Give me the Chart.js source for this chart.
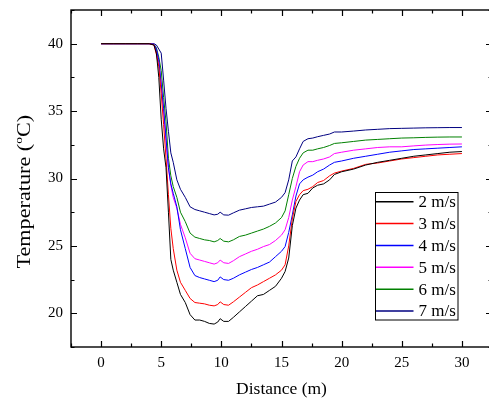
<!DOCTYPE html>
<html>
<head>
<meta charset="utf-8">
<script src="https://cdn.jsdelivr.net/npm/chart.js@4.4.0/dist/chart.umd.min.js"></script>
<style>
  html, body { margin: 0; padding: 0; background: #fff; overflow: hidden; }
  #wrap { width: 500px; height: 401px; }
</style>
</head>
<body>
<div id="wrap"><canvas id="chart" width="500" height="401"></canvas></div>
<script>
// distance (m)
const distance = [0, 1, 2, 3, 4, 4.4, 4.6, 4.8, 5.0, 5.2, 5.4, 5.6, 5.8, 6.0, 6.3, 6.6, 7.0, 7.4, 7.8, 8.2, 8.6, 9.0, 9.4, 9.7, 9.9, 10.2, 10.6, 11.0, 11.5, 12.0, 12.5, 13.0, 13.5, 14.0, 14.5, 15.0, 15.3, 15.6, 15.9, 16.2, 16.5, 16.8, 17.2, 17.6, 18.0, 18.5, 19.0, 19.4, 20, 21, 22, 23, 24, 25, 26, 27, 28, 29, 30];

// temperature (°C) per wind speed
const t2 = [40, 40, 40, 40, 40, 39.9, 39.3, 37.5, 34.4, 32.2, 30.8, 27.5, 24.0, 23.2, 22.3, 21.4, 20.8, 19.9, 19.5, 19.5, 19.4, 19.25, 19.2, 19.35, 19.6, 19.4, 19.4, 19.7, 20.1, 20.5, 20.9, 21.3, 21.4, 21.7, 22.0, 22.6, 23.1, 24.1, 26.5, 27.8, 28.4, 28.8, 28.9, 29.3, 29.5, 29.6, 29.9, 30.3, 30.5, 30.7, 31.0, 31.2, 31.35, 31.5, 31.65, 31.75, 31.85, 31.95, 32.0];
const t3 = [40, 40, 40, 40, 40, 39.9, 39.2, 38.3, 36.3, 34.0, 31.5, 28.8, 26.3, 24.8, 23.2, 22.3, 21.7, 21.1, 20.8, 20.75, 20.7, 20.6, 20.55, 20.65, 20.85, 20.65, 20.6, 20.85, 21.2, 21.55, 21.9, 22.1, 22.35, 22.6, 22.85, 23.2, 23.6, 25.0, 27.0, 28.3, 28.8, 29.1, 29.2, 29.4, 29.7, 29.85, 30.2, 30.4, 30.55, 30.75, 31.05, 31.15, 31.3, 31.45, 31.55, 31.65, 31.75, 31.8, 31.85];
const t4 = [40, 40, 40, 40, 40, 39.95, 39.6, 38.8, 37.0, 35.2, 33.0, 30.8, 29.6, 28.9, 27.9, 26.2, 24.8, 23.4, 22.8, 22.65, 22.55, 22.45, 22.35, 22.45, 22.7, 22.5, 22.45, 22.6, 22.85, 23.05, 23.25, 23.4, 23.6, 23.8, 24.2, 24.6, 24.95, 26.0, 27.3, 28.7, 29.6, 29.9, 30.1, 30.25, 30.5, 30.7, 31.0, 31.2, 31.3, 31.5, 31.65, 31.8, 31.95, 32.05, 32.15, 32.2, 32.25, 32.3, 32.35];
const t5 = [40, 40, 40, 40, 40, 39.95, 39.5, 38.6, 37.0, 35.0, 32.8, 30.8, 29.5, 28.6, 27.8, 26.6, 25.6, 24.45, 24.05, 23.95, 23.85, 23.75, 23.65, 23.75, 23.95, 23.75, 23.7, 23.9, 24.2, 24.4, 24.6, 24.75, 24.95, 25.1, 25.4, 25.8, 26.2, 27.1, 28.4, 29.4, 30.5, 31.0, 31.25, 31.25, 31.35, 31.45, 31.6, 31.85, 31.95, 32.1, 32.2, 32.3, 32.35, 32.35, 32.42, 32.48, 32.52, 32.55, 32.56];
const t6 = [40, 40, 40, 40, 40, 39.95, 39.7, 39.0, 38.0, 36.0, 34.2, 31.5, 30.2, 29.4, 28.6, 27.5, 26.8, 25.95, 25.65, 25.55, 25.45, 25.4, 25.3, 25.4, 25.55, 25.35, 25.3, 25.45, 25.7, 25.8, 25.95, 26.1, 26.25, 26.45, 26.7, 27.1, 27.6, 28.8, 30.0, 30.9, 31.5, 31.9, 32.1, 32.1, 32.2, 32.3, 32.45, 32.6, 32.65, 32.75, 32.85, 32.9, 32.95, 33.0, 33.02, 33.05, 33.07, 33.08, 33.08];
const t7 = [40, 40, 40, 40, 40, 40.0, 39.9, 39.6, 39.3, 37.3, 35.2, 33.5, 31.9, 31.2, 29.9, 29.2, 28.6, 27.9, 27.7, 27.6, 27.5, 27.4, 27.3, 27.35, 27.5, 27.3, 27.28, 27.45, 27.65, 27.75, 27.85, 27.9, 27.95, 28.1, 28.25, 28.6, 28.95, 29.9, 31.3, 31.6, 32.2, 32.75, 32.95, 33.0, 33.1, 33.2, 33.3, 33.45, 33.45, 33.52, 33.6, 33.65, 33.7, 33.72, 33.74, 33.76, 33.77, 33.78, 33.78];

const seriesLabels = ['2 m/s', '3 m/s', '4 m/s', '5 m/s', '6 m/s', '7 m/s'];
const seriesValues = [t2, t3, t4, t5, t6, t7];
const seriesColors = ['#000000', '#ff0000', '#0000ff', '#ff00ff', '#008000', '#000080'];

const serif = "'Times New Roman', 'Liberation Serif', serif";

const isMajor = v => Math.abs(v % 5) < 1e-6;

// y title drawn by hand: the "o" of °C is a superscript and the text is a bit stretched
function drawYTitle(ctx) {
  const size = 18.5, stretch = 1.2;
  const parts = [
    { t: 'Temperature (', f: size, dy: 0 },
    { t: 'o', f: size * 0.6, dy: -size * 0.42 },
    { t: 'C)', f: size, dy: 0 }
  ];
  let w = 0;
  parts.forEach(p => { ctx.font = p.f + 'px ' + serif; p.w = ctx.measureText(p.t).width; w += p.w; });
  ctx.save();
  ctx.translate(30, 191.7 + stretch * w / 2);
  ctx.rotate(-Math.PI / 2);
  ctx.scale(stretch, 1);
  ctx.fillStyle = '#000';
  ctx.textBaseline = 'alphabetic';
  ctx.textAlign = 'left';
  let x = 0;
  parts.forEach(p => {
    ctx.font = p.f + 'px ' + serif;
    ctx.fillText(p.t, x, p.dy);
    x += p.w;
  });
  ctx.restore();
}

// box round the plot, inward ticks on all four sides, legend in the lower right
const framePlugin = {
  id: 'frame',
  afterDraw(chart) {
    const ctx = chart.ctx;
    const a = chart.chartArea;
    const xs = chart.scales.x, ys = chart.scales.y;
    ctx.save();
    ctx.strokeStyle = '#000';
    ctx.lineWidth = 1.4;
    ctx.strokeRect(a.left, a.top, a.right - a.left, a.bottom - a.top);

    ctx.lineWidth = 1.2;
    ctx.beginPath();
    xs.ticks.forEach(t => {
      const px = Math.round(xs.getPixelForValue(t.value)) + 0.5;
      const len = isMajor(t.value) ? 6 : 3.5;
      ctx.moveTo(px, a.bottom); ctx.lineTo(px, a.bottom - len);
      ctx.moveTo(px, a.top); ctx.lineTo(px, a.top + len);
    });
    ys.ticks.forEach(t => {
      const py = Math.round(ys.getPixelForValue(t.value)) + 0.5;
      const len = isMajor(t.value) ? 6 : 3.5;
      ctx.moveTo(a.left, py); ctx.lineTo(a.left + len, py);
      ctx.moveTo(a.right, py); ctx.lineTo(a.right - len, py);
    });
    ctx.stroke();

    drawYTitle(ctx);

    // legend
    const lx = 375, ly = 192.5, lw = 82.5, lh = 127.5;
    ctx.fillStyle = '#fff';
    ctx.fillRect(lx, ly, lw, lh);
    ctx.lineWidth = 1;
    ctx.strokeStyle = '#000';
    ctx.strokeRect(lx + 0.5, ly, lw, lh);
    ctx.font = '17px ' + serif;
    ctx.textBaseline = 'middle';
    ctx.textAlign = 'left';
    chart.data.datasets.forEach((ds, i) => {
      const y = 201.7 + i * 21.86;
      ctx.strokeStyle = ds.borderColor;
      ctx.lineWidth = 1.5;
      ctx.beginPath();
      ctx.moveTo(lx + 1, y); ctx.lineTo(413.5, y);
      ctx.stroke();
      ctx.fillStyle = '#000';
      ctx.fillText(ds.label, 418.5, y + 1);
    });
    ctx.restore();
  }
};

new Chart(document.getElementById('chart'), {
  type: 'line',
  data: {
    datasets: seriesLabels.map((label, i) => ({
      label: label,
      data: distance.map((d, j) => ({ x: d, y: seriesValues[i][j] })),
      borderColor: seriesColors[i],
      backgroundColor: seriesColors[i],
      borderWidth: 1,
      pointRadius: 0,
      tension: 0,
      fill: false
    }))
  },
  options: {
    responsive: false,
    animation: false,
    layout: { padding: { top: 10, right: 8, left: 0, bottom: 0 } },
    plugins: {
      legend: { display: false },
      tooltip: { enabled: false }
    },
    scales: {
      x: {
        type: 'linear',
        min: -2.5,
        max: 32.5,
        afterFit: s => { s.height = 54; s.paddingLeft = 0; s.paddingRight = 0; },
        grid: { display: false, drawTicks: false },
        border: { display: false },
        ticks: {
          stepSize: 2.5,
          autoSkip: false,
          maxRotation: 0,
          padding: 7,
          color: '#000',
          font: { family: serif, size: 15 },
          callback: v => (isMajor(v) ? String(Math.round(v)) : '')
        },
        title: {
          display: true,
          text: 'Distance (m)',
          color: '#000',
          font: { family: serif, size: 17.5 },
          padding: { top: 0, bottom: 1 }
        }
      },
      y: {
        type: 'linear',
        min: 17.5,
        max: 42.5,
        afterFit: s => { s.width = 71; s.paddingTop = 0; s.paddingBottom = 0; },
        grid: { display: false, drawTicks: false },
        border: { display: false },
        ticks: {
          stepSize: 2.5,
          autoSkip: false,
          padding: 8,
          color: '#000',
          font: { family: serif, size: 15 },
          callback: v => (isMajor(v) ? String(Math.round(v)) : '')
        }
      }
    }
  },
  plugins: [framePlugin]
});
</script>
</body>
</html>
